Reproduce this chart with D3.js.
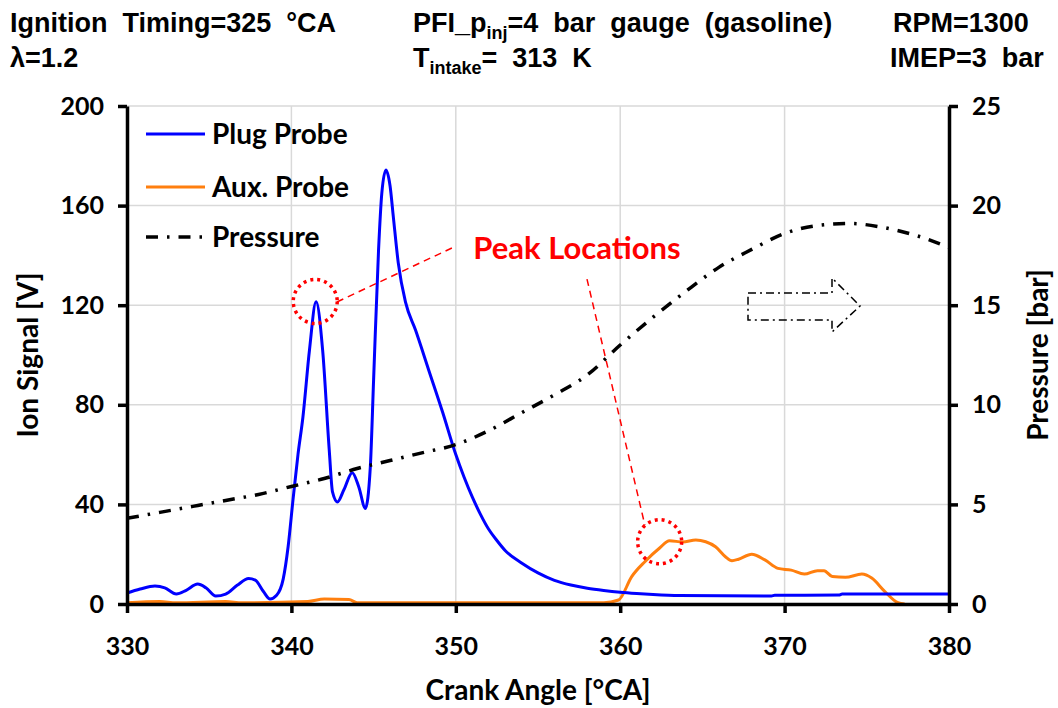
<!DOCTYPE html>
<html>
<head>
<meta charset="utf-8">
<script src="https://cdn.jsdelivr.net/npm/d3@7"></script>
<style>
  body { margin: 0; background: #fff; }
  svg { display: block; }
  .hdr { font-family: "Liberation Sans Narrow", "Liberation Sans", Arial, sans-serif; font-weight: bold; font-size: 27px; white-space: pre; }
  .lbl { font-family: Lato, "Open Sans", sans-serif; font-weight: bold; }
</style>
</head>
<body>
<svg id="chart" width="1058" height="708"></svg>
<script>
// crank angle [°CA] and ion signal [V] of the spark plug probe
const plugAngle = [330, 330.8, 331.7, 332.3, 333, 333.6, 334.3, 334.8, 335.4, 336, 336.7, 337.4, 337.8, 338.3, 338.7, 339.1, 339.5, 339.8,
  340.1, 340.4, 340.7, 341.1, 341.5, 341.9, 342.3, 342.5, 342.8, 343.2, 343.7, 344.1, 344.5, 344.8, 345.0, 345.3, 345.5, 345.75,
  346.0, 346.2, 346.5, 346.95, 347.55, 348.35, 349.2, 350, 350.5, 351, 351.5, 352, 352.5, 353, 354, 355, 356, 357, 358, 359, 360, 361, 362,
  363.6, 369.2, 369.4, 373.3, 373.5, 380];
const plugSignal = [4.4, 6, 7.2, 6.5, 4, 5.5, 8, 6.5, 3.2, 4, 7.5, 10.2, 9.6, 5, 2, 3.5, 10, 23,
  42, 60, 75, 102, 121.4, 102, 62, 45, 41, 46, 52.7, 47, 38.4, 55, 90, 142, 165, 174.3,
  168, 155.5, 137, 121, 110, 94, 77, 60, 51, 43, 36, 30, 25.5, 21.5, 16.5, 12.5, 9.5, 7.6, 6.3, 5.4, 4.7, 4.2, 3.8,
  3.4, 3.2, 3.5, 3.6, 4, 4];

// auxiliary probe
const auxAngle = [330, 332, 333, 336, 337, 341, 342, 343.5, 344, 359, 359.9, 360.7, 361.5, 362.4, 363, 363.8, 364.6, 365.2, 365.8,
  366.4, 366.8, 367.2, 368, 368.8, 369.6, 370.4, 371.2, 372, 372.4, 372.9, 373.7, 374.7, 375.3, 376.1, 376.9, 377.3];
const auxSignal = [0.5, 1, 0.5, 1, 0.5, 1, 2, 1.8, 0.5, 0.5, 1.6, 11, 17, 22.5, 25.4, 24.9, 25.7, 25, 23,
  19, 17.4, 18, 20, 17.7, 14.3, 13.6, 12, 13.4, 13.4, 11, 10.7, 12, 10.4, 5, 0.5, 0];

// cylinder pressure [bar]
const presAngle = [330, 332, 334, 336, 338, 340, 342, 344, 346, 348, 350, 352, 354, 356, 358, 360, 362, 364, 366, 368, 370, 372, 374, 376, 378, 380];
const presBar = [4.3, 4.6, 4.9, 5.2, 5.5, 5.9, 6.3, 6.8, 7.2, 7.6, 8.0, 8.7, 9.6, 10.5, 11.5, 13.0, 14.4, 15.7, 16.9, 17.8, 18.6, 19.0, 19.1, 18.9, 18.5, 17.9];

const xTicks = [330, 340, 350, 360, 370, 380];
const ionTicks = [0, 40, 80, 120, 160, 200];
const presTicks = [0, 5, 10, 15, 20, 25];

// peak markers [angle, V] and leader lines [[angle, V], [angle, V]]
const peaks = [[341.45, 121.5], [362.4, 25]];
const leaders = [[[342.77, 121.3], [349.77, 143]], [[357.98, 130.5], [361.5, 31.7]]];

const headers = [
  { text: 'Ignition  Timing=325  °CA', x: 10, y: 32 },
  { text: 'λ=1.2', x: 10, y: 67 },
  { text: 'RPM=1300', x: 893, y: 32 },
  { text: 'IMEP=3  bar', x: 890, y: 67 }
];

const svg = d3.select('#chart');
const pLeft = 127, pRight = 949, pTop = 106, pBottom = 604;

const x = d3.scaleLinear().domain([330, 380]).range([pLeft, pRight]);
const yIon = d3.scaleLinear().domain([0, 200]).range([pBottom, pTop]);
const yPres = d3.scaleLinear().domain([0, 25]).range([pBottom, pTop]);

// grid
svg.append('g').selectAll('line').data(ionTicks.slice(1)).join('line')
  .attr('x1', pLeft).attr('x2', pRight)
  .attr('y1', d => yIon(d)).attr('y2', d => yIon(d))
  .attr('stroke', '#d9d9d9').attr('stroke-width', 1.5);
svg.append('g').selectAll('line').data(xTicks.slice(1, -1)).join('line')
  .attr('x1', d => x(d)).attr('x2', d => x(d))
  .attr('y1', pTop).attr('y2', pBottom)
  .attr('stroke', '#d9d9d9').attr('stroke-width', 1.5);

// series
const plugLine = d3.line().x((d, i) => x(plugAngle[i])).y(d => yIon(d)).curve(d3.curveMonotoneX);
const auxLine = d3.line().x((d, i) => x(auxAngle[i])).y(d => yIon(d)).curve(d3.curveMonotoneX);
const presLine = d3.line().x((d, i) => x(presAngle[i])).y(d => yPres(d)).curve(d3.curveMonotoneX);

svg.append('path').datum(auxSignal).attr('d', auxLine)
  .attr('fill', 'none').attr('stroke', '#ff7f0e').attr('stroke-width', 3);
svg.append('path').datum(plugSignal).attr('d', plugLine)
  .attr('fill', 'none').attr('stroke', '#0000ff').attr('stroke-width', 3);
svg.append('path').datum(presBar).attr('d', presLine)
  .attr('fill', 'none').attr('stroke', '#000').attr('stroke-width', 3.5)
  .attr('stroke-dasharray', '12,9,2.5,9');

// axes
const axisStyle = g => {
  g.select('.domain').attr('stroke', '#000').attr('stroke-width', 3.5);
  g.selectAll('.tick line').attr('stroke', '#000').attr('stroke-width', 3.5);
  g.selectAll('text').attr('class', 'lbl').style('font-size', '25px').attr('fill', '#000');
};

svg.append('g').attr('transform', `translate(0,${pBottom})`)
  .call(d3.axisBottom(x).tickValues(xTicks).tickSize(9).tickSizeOuter(0).tickPadding(24))
  .call(axisStyle);
svg.append('g').attr('transform', `translate(${pLeft},0)`)
  .call(d3.axisLeft(yIon).tickValues(ionTicks).tickSize(9).tickSizeOuter(0).tickPadding(14))
  .call(axisStyle);
svg.append('g').attr('transform', `translate(${pRight},0)`)
  .call(d3.axisRight(yPres).tickValues(presTicks).tickSize(9).tickSizeOuter(0).tickPadding(14))
  .call(axisStyle);

// axis titles
svg.append('text').attr('class', 'lbl').style('font-size', '28px')
  .attr('x', 538).attr('y', 700).attr('text-anchor', 'middle').text('Crank Angle [°CA]');
svg.append('text').attr('class', 'lbl').style('font-size', '28px')
  .attr('transform', `translate(38,355) rotate(-90)`).attr('text-anchor', 'middle').text('Ion Signal [V]');
svg.append('text').attr('class', 'lbl').style('font-size', '28px')
  .attr('transform', `translate(1048,355) rotate(-90)`).attr('text-anchor', 'middle').text('Pressure [bar]');

// legend
const legend = [
  { name: 'Plug Probe', color: '#0000ff', dash: null, y: 134 },
  { name: 'Aux. Probe', color: '#ff7f0e', dash: null, y: 187 },
  { name: 'Pressure', color: '#000', dash: '12,9,2.5,9', y: 237 }
];
const lg = svg.append('g').selectAll('g').data(legend).join('g');
lg.append('line').attr('x1', 146).attr('x2', 205).attr('y1', d => d.y).attr('y2', d => d.y)
  .attr('stroke', d => d.color).attr('stroke-width', d => d.dash ? 3.5 : 3)
  .attr('stroke-dasharray', d => d.dash);
lg.append('text').attr('class', 'lbl').style('font-size', '28px')
  .attr('x', 212).attr('y', d => d.y + 10).text(d => d.name);

// peak annotations
svg.append('g').selectAll('circle').data(peaks).join('circle')
  .attr('cx', d => x(d[0])).attr('cy', d => yIon(d[1])).attr('r', 22)
  .attr('fill', 'none').attr('stroke', '#ff0000').attr('stroke-width', 3.5)
  .attr('stroke-dasharray', '3,4');
svg.append('g').selectAll('line').data(leaders).join('line')
  .attr('x1', d => x(d[0][0])).attr('y1', d => yIon(d[0][1]))
  .attr('x2', d => x(d[1][0])).attr('y2', d => yIon(d[1][1]))
  .attr('stroke', '#ff0000').attr('stroke-width', 1.5).attr('stroke-dasharray', '7,5');
svg.append('text').attr('class', 'lbl').style('font-size', '31px').attr('fill', '#ff0000')
  .attr('x', 577).attr('y', 259).attr('text-anchor', 'middle').text('Peak Locations');

// hollow dash-dot arrow
const ax0 = 748, ax1 = 832, ay = 306;
svg.append('path')
  .attr('d', `M${ax0},${ay - 13} L${ax1},${ay - 13} L${ax1},${ay - 28} L860,${ay} L${ax1},${ay + 26} L${ax1},${ay + 14} L${ax0},${ay + 14} Z`)
  .attr('fill', 'none').attr('stroke', '#000').attr('stroke-width', 1.5)
  .attr('stroke-dasharray', '8,4,2,4');

// header text
svg.append('g').selectAll('text').data(headers).join('text')
  .attr('class', 'hdr').attr('x', d => d.x).attr('y', d => d.y).text(d => d.text);

const t1 = svg.append('text').attr('class', 'hdr').attr('x', 413).attr('y', 32);
t1.append('tspan').text('PFI_p');
t1.append('tspan').attr('dy', 7).style('font-size', '18px').text('inj');
t1.append('tspan').attr('dy', -7).text('=4  bar  gauge  (gasoline)');

const t2 = svg.append('text').attr('class', 'hdr').attr('x', 413).attr('y', 67);
t2.append('tspan').text('T');
t2.append('tspan').attr('dy', 7).style('font-size', '18px').text('intake');
t2.append('tspan').attr('dy', -7).text('=  313  K');
</script>
</body>
</html>
